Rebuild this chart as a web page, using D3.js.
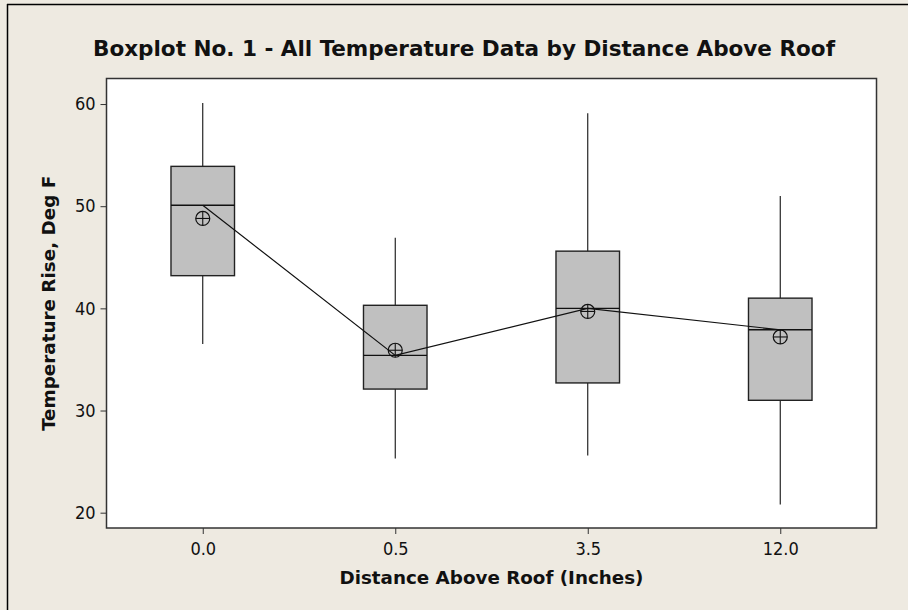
<!DOCTYPE html>
<html>
<head>
<meta charset="utf-8">
<script src="https://cdn.jsdelivr.net/npm/d3@7"></script>
<style>
  html, body { margin: 0; padding: 0; background: #EEEAE1; }
  svg { display: block; }
  text { font-family: "DejaVu Sans Condensed", "DejaVu Sans", Verdana, sans-serif; fill: #111; }
</style>
</head>
<body>
<svg id="chart" width="908" height="610"></svg>
<script>
// Boxplot summary per distance above roof (Deg F temperature rise)
const categories  = ["0.0", "0.5", "3.5", "12.0"];
const whiskerLow  = [36.5, 25.3, 25.6, 20.8];
const q1          = [43.2, 32.1, 32.7, 31.0];
const median      = [50.1, 35.4, 40.0, 37.9];
const q3          = [53.9, 40.3, 45.6, 41.0];
const whiskerHigh = [60.1, 46.9, 59.1, 51.0];
const means       = [48.8, 35.9, 39.7, 37.2];
const yTicks      = [20, 30, 40, 50, 60];

const titleText = "Boxplot No. 1 - All Temperature Data by Distance Above Roof";
const xTitle = "Distance Above Roof (Inches)";
const yTitle = "Temperature Rise, Deg F";

const W = 908, H = 610;
const plot = { left: 106.5, right: 876.5, top: 78.5, bottom: 528 };
const FONT = "'DejaVu Sans Condensed', 'DejaVu Sans', sans-serif";

const svg = d3.select("#chart");

// page background and the frame's top/left edge
svg.append("rect").attr("x", 0).attr("y", 0).attr("width", W).attr("height", H).attr("fill", "#EEEAE1");
svg.append("line").attr("x1", 7).attr("x2", W).attr("y1", 4.5).attr("y2", 4.5)
  .attr("stroke", "#000").attr("stroke-width", 1.5);
svg.append("line").attr("x1", 7.5).attr("x2", 7.5).attr("y1", 4).attr("y2", H)
  .attr("stroke", "#000").attr("stroke-width", 1.5);

const x = d3.scalePoint().domain(categories).range([plot.left, plot.right]).padding(0.5);
const y = d3.scaleLinear().domain([18.5, 62.5]).range([plot.bottom, plot.top]);
const boxW = x.step() * 0.33;

// plotting region
svg.append("rect")
  .attr("x", plot.left).attr("y", plot.top)
  .attr("width", plot.right - plot.left).attr("height", plot.bottom - plot.top)
  .attr("fill", "#fff").attr("stroke", "#333").attr("stroke-width", 1.5);

// axes
const yAxis = svg.append("g").attr("transform", `translate(${plot.left},0)`)
  .call(d3.axisLeft(y).tickValues(yTicks).tickSize(6).tickPadding(5).tickFormat(d3.format("d")));
const xAxis = svg.append("g").attr("transform", `translate(0,${plot.bottom})`)
  .call(d3.axisBottom(x).tickSize(6).tickPadding(6));
[yAxis, xAxis].forEach(g => {
  g.select(".domain").remove();
  g.selectAll(".tick line").attr("stroke", "#333");
  g.selectAll(".tick text").attr("font-size", 18).attr("fill", "#111").attr("font-family", FONT);
});
xAxis.selectAll(".tick text").attr("dy", "0.82em");

const idx = d3.range(categories.length);
const g = svg.append("g");

// whiskers
g.selectAll("line.whiskHi").data(idx).join("line")
  .attr("x1", i => x(categories[i])).attr("x2", i => x(categories[i]))
  .attr("y1", i => y(q3[i])).attr("y2", i => y(whiskerHigh[i]))
  .attr("stroke", "#111").attr("stroke-width", 1.1);
g.selectAll("line.whiskLo").data(idx).join("line")
  .attr("x1", i => x(categories[i])).attr("x2", i => x(categories[i]))
  .attr("y1", i => y(q1[i])).attr("y2", i => y(whiskerLow[i]))
  .attr("stroke", "#111").attr("stroke-width", 1.1);

// boxes
g.selectAll("rect.box").data(idx).join("rect")
  .attr("x", i => x(categories[i]) - boxW / 2)
  .attr("y", i => y(q3[i]))
  .attr("width", boxW)
  .attr("height", i => y(q1[i]) - y(q3[i]))
  .attr("fill", "#C0C0C0").attr("stroke", "#222").attr("stroke-width", 1.4);

// median lines
g.selectAll("line.med").data(idx).join("line")
  .attr("x1", i => x(categories[i]) - boxW / 2).attr("x2", i => x(categories[i]) + boxW / 2)
  .attr("y1", i => y(median[i])).attr("y2", i => y(median[i]))
  .attr("stroke", "#111").attr("stroke-width", 1.4);

// line joining the medians
g.append("path")
  .datum(idx)
  .attr("d", d3.line().x(i => x(categories[i])).y(i => y(median[i])))
  .attr("fill", "none").attr("stroke", "#111").attr("stroke-width", 1.2);

// mean symbols: circled plus
const r = 7;
const m = g.selectAll("g.mean").data(idx).join("g")
  .attr("transform", i => `translate(${x(categories[i])},${y(means[i])})`);
m.append("circle").attr("r", r).attr("fill", "none").attr("stroke", "#111").attr("stroke-width", 1.2);
m.append("line").attr("x1", -r).attr("x2", r).attr("stroke", "#111").attr("stroke-width", 1.1);
m.append("line").attr("y1", -r).attr("y2", r).attr("stroke", "#111").attr("stroke-width", 1.1);

// titles
function fit(sel, target) {
  const len = sel.node().getComputedTextLength();
  if (Math.abs(len - target) > 4) sel.attr("textLength", target).attr("lengthAdjust", "spacingAndGlyphs");
}
const t = svg.append("text").attr("x", (93 + 835) / 2).attr("y", 56)
  .attr("text-anchor", "middle").attr("font-size", 22).attr("font-weight", "bold")
  .attr("font-family", FONT).text(titleText);
fit(t, 742);

const xt = svg.append("text").attr("x", (plot.left + plot.right) / 2).attr("y", 584)
  .attr("text-anchor", "middle").attr("font-size", 18).attr("font-weight", "bold")
  .attr("font-family", FONT).text(xTitle);
fit(xt, 304);

const yt = svg.append("text")
  .attr("transform", `translate(55,${(plot.top + plot.bottom) / 2}) rotate(-90)`)
  .attr("text-anchor", "middle").attr("font-size", 17).attr("font-weight", "bold")
  .attr("font-family", "'DejaVu Sans', sans-serif").text(yTitle);
fit(yt, 255);
</script>
</body>
</html>
